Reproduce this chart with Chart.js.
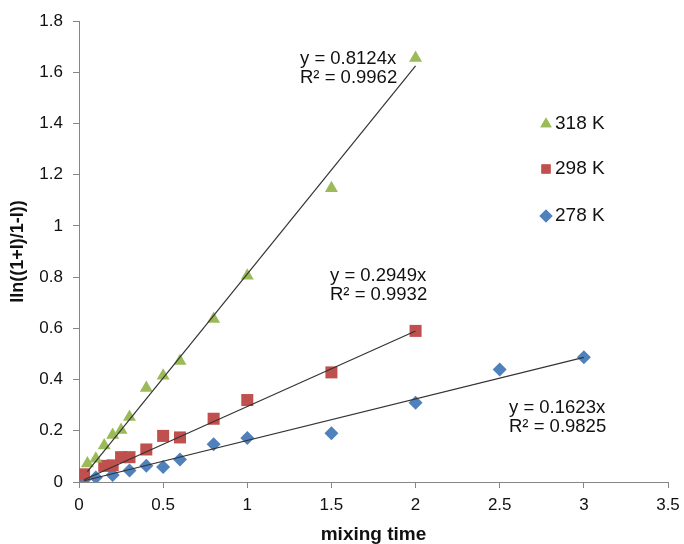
<!DOCTYPE html>
<html>
<head>
<meta charset="utf-8">
<title>mixing time</title>
<script src="https://cdn.jsdelivr.net/npm/chart.js@4.4.1/dist/chart.umd.min.js"></script>
<style>
  html, body { margin: 0; padding: 0; background: #fff; }
  #wrap { width: 684px; height: 544px; position: relative; }
</style>
</head>
<body>
<div id="wrap"><canvas id="kineticsChart"></canvas></div>
<script>
// measured points, one pair of arrays per temperature
const seriesNames = ['318 K', '298 K', '278 K'];

const time318 = [0.05, 0.1, 0.15, 0.2, 0.25, 0.3, 0.4, 0.5, 0.6, 0.8, 1, 1.5, 2];
const value318 = [0.072, 0.091, 0.143, 0.184, 0.203, 0.254, 0.367, 0.415, 0.472, 0.636, 0.805, 1.147, 1.656];

const time298 = [0.03, 0.15, 0.2, 0.25, 0.3, 0.4, 0.5, 0.6, 0.8, 1, 1.5, 2];
const value298 = [0.03, 0.063, 0.065, 0.097, 0.097, 0.127, 0.18, 0.174, 0.247, 0.32, 0.428, 0.59];

const time278 = [0.03, 0.1, 0.2, 0.3, 0.4, 0.5, 0.6, 0.8, 1, 1.5, 2, 2.5, 3];
const value278 = [0.008, 0.018, 0.027, 0.045, 0.063, 0.059, 0.088, 0.147, 0.172, 0.19, 0.309, 0.439, 0.487];

// linear fits through the origin
const slopes = [0.8124, 0.2949, 0.1623];
const rSquared = ['0.9962', '0.9932', '0.9825'];

const xTicks = [0, 0.5, 1, 1.5, 2, 2.5, 3, 3.5];
const xTickLabels = ['0', '0.5', '1', '1.5', '2', '2.5', '3', '3.5'];
const yTicks = [0, 0.2, 0.4, 0.6, 0.8, 1, 1.2, 1.4, 1.6, 1.8];
const yTickLabels = ['0', '0.2', '0.4', '0.6', '0.8', '1', '1.2', '1.4', '1.6', '1.8'];

const colors = ['#9BBB59', '#C0504D', '#4F81BD'];
const shapes = ['triangle', 'rect', 'rectRot'];
const radii = [7.5, 8.5, 7];
const FONT = "'Liberation Sans', Arial, sans-serif";

function toPoints(xs, ys) {
    return xs.map((x, i) => ({ x: x, y: ys[i] }));
}

function trend(xs, k) {
    const lo = Math.min(...xs), hi = Math.max(...xs);
    return [{ x: lo, y: k * lo }, { x: hi, y: k * hi }];
}

const times = [time318, time298, time278];
const values = [value318, value298, value278];

const datasets = [];
for (let i = 2; i >= 0; i--) {
    datasets.push({
        type: 'scatter',
        label: seriesNames[i],
        data: toPoints(times[i], values[i]),
        pointStyle: shapes[i],
        pointRadius: radii[i],
        pointHoverRadius: radii[i],
        backgroundColor: colors[i],
        borderColor: colors[i],
        borderWidth: 0,
        order: 10 + i
    });
}
for (let i = 0; i < 3; i++) {
    datasets.push({
        type: 'line',
        label: 'fit ' + seriesNames[i],
        data: trend(times[i], slopes[i]),
        borderColor: '#333',
        borderWidth: 1.2,
        pointRadius: 0,
        fill: false,
        order: 1
    });
}

// equation boxes and the legend are placed by hand
const eqPos = [{ x: 300, y: 59 }, { x: 330, y: 276 }, { x: 509, y: 408 }];
const legendPos = [{ x: 546, y: 124 }, { x: 546, y: 169 }, { x: 546, y: 216 }];

const annotations = {
    id: 'annotations',
    afterDraw(chart) {
        const ctx = chart.ctx;
        ctx.save();
        ctx.fillStyle = '#111';
        ctx.textAlign = 'left';
        ctx.textBaseline = 'middle';
        ctx.font = '18.5px ' + FONT;
        eqPos.forEach((p, i) => {
            ctx.fillText('y = ' + slopes[i] + 'x', p.x, p.y);
            ctx.fillText('R\u00b2 = ' + rSquared[i], p.x, p.y + 19);
        });
        ctx.font = '19px ' + FONT;
        legendPos.forEach((p, i) => {
            ctx.fillStyle = colors[i];
            Chart.helpers.drawPoint(ctx, { pointStyle: shapes[i], radius: 6.5, rotation: 0, borderWidth: 0 }, p.x, p.y);
            ctx.fill();
            ctx.fillStyle = '#111';
            ctx.fillText(seriesNames[i], p.x + 9, p.y);
        });
        ctx.restore();
    }
};

const axisColor = '#868686';

new Chart(document.getElementById('kineticsChart'), {
    type: 'scatter',
    data: { datasets: datasets },
    options: {
        responsive: true,
        maintainAspectRatio: false,
        animation: false,
        layout: { padding: { left: 0, right: 16, top: 21, bottom: 0 } },
        plugins: { legend: { display: false }, tooltip: { enabled: false } },
        scales: {
            x: {
                type: 'linear',
                min: 0,
                max: 3.5,
                afterBuildTicks: s => { s.ticks = xTicks.map(v => ({ value: v })); },
                afterFit: s => { s.height = 62; s.paddingRight = 12; s.paddingLeft = 0; },
                ticks: {
                    color: '#111',
                    font: { family: FONT, size: 17 },
                    padding: 7,
                    maxRotation: 0,
                    callback: (v, i) => xTickLabels[i]
                },
                grid: { display: true, drawOnChartArea: false, drawTicks: true, tickLength: 6, color: axisColor },
                border: { display: true, color: axisColor, width: 1 },
                title: {
                    display: true,
                    text: 'mixing time',
                    color: '#111',
                    font: { family: FONT, size: 19, weight: 'bold', lineHeight: 1 },
                    padding: { top: 0, bottom: 0 }
                }
            },
            y: {
                type: 'linear',
                min: 0,
                max: 1.8,
                afterBuildTicks: s => { s.ticks = yTicks.map(v => ({ value: v })); },
                afterFit: s => { s.width = 79; },
                ticks: {
                    color: '#111',
                    font: { family: FONT, size: 17 },
                    padding: 10,
                    callback: (v, i) => yTickLabels[i]
                },
                grid: { display: true, drawOnChartArea: false, drawTicks: true, tickLength: 6, color: axisColor },
                border: { display: true, color: axisColor, width: 1 },
                title: {
                    display: true,
                    text: 'lln((1+I)/1-I))',
                    color: '#111',
                    font: { family: FONT, size: 18, weight: 'bold' },
                    padding: { top: 7, bottom: 0 }
                }
            }
        }
    },
    plugins: [annotations]
});
</script>
</body>
</html>
